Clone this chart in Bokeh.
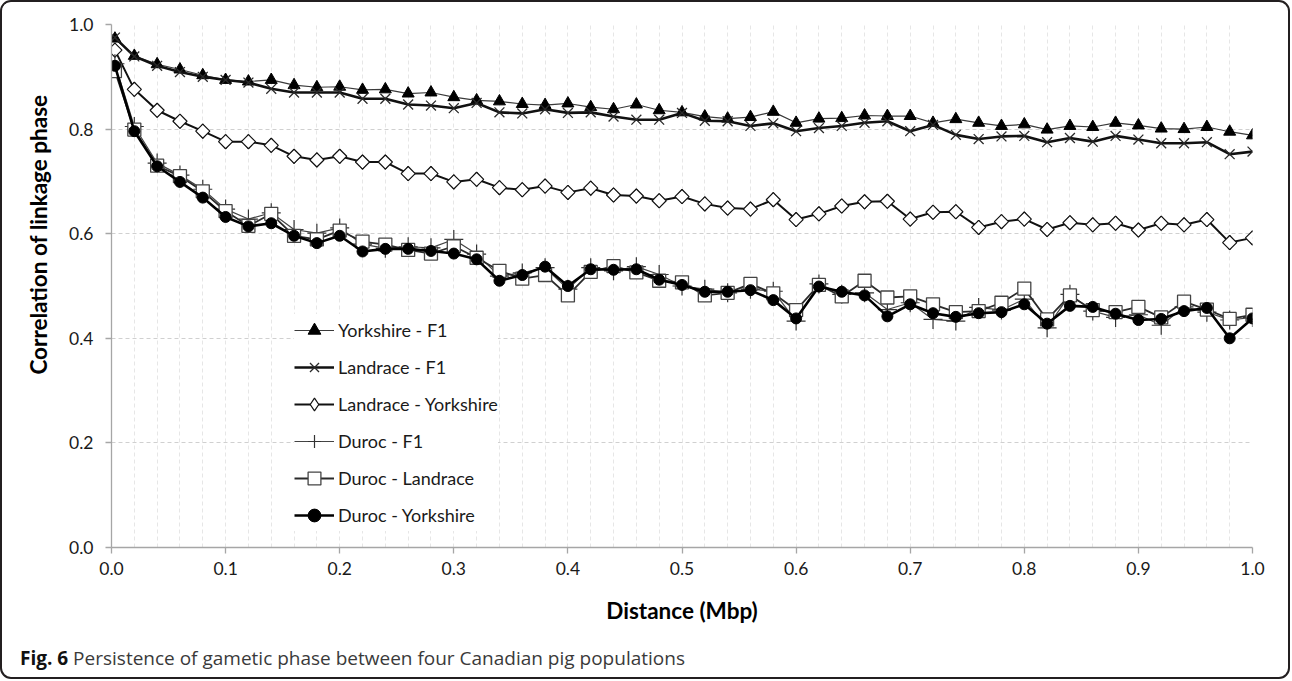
import math
from bokeh.plotting import figure
from bokeh.models import (FixedTicker, PrintfTickFormatter, Legend, LegendItem,
                          Title, Div, Range1d)
from bokeh.layouts import column
from bokeh.embed import file_html
from bokeh.resources import INLINE

# ---------------- data ----------------
distance = [0.003, 0.02, 0.04, 0.06, 0.08, 0.10, 0.12, 0.14, 0.16, 0.18, 0.20,
            0.22, 0.24, 0.26, 0.28, 0.30, 0.32, 0.34, 0.36, 0.38, 0.40,
            0.42, 0.44, 0.46, 0.48, 0.50, 0.52, 0.54, 0.56, 0.58, 0.60,
            0.62, 0.64, 0.66, 0.68, 0.70, 0.72, 0.74, 0.76, 0.78, 0.80,
            0.82, 0.84, 0.86, 0.88, 0.90, 0.92, 0.94, 0.96, 0.98, 1.00]

yorkshire_f1 = [0.973, 0.940, 0.924, 0.914, 0.903, 0.894, 0.891, 0.894, 0.884, 0.880, 0.881,
                0.875, 0.876, 0.868, 0.870, 0.861, 0.855, 0.853, 0.848, 0.846, 0.849,
                0.842, 0.838, 0.847, 0.836, 0.832, 0.824, 0.820, 0.823, 0.833, 0.812,
                0.820, 0.821, 0.826, 0.825, 0.825, 0.812, 0.819, 0.812, 0.806, 0.809,
                0.799, 0.806, 0.804, 0.812, 0.807, 0.801, 0.800, 0.804, 0.795, 0.788]

landrace_f1 = [0.975, 0.939, 0.921, 0.909, 0.900, 0.894, 0.889, 0.877, 0.870, 0.870, 0.870,
               0.858, 0.858, 0.847, 0.845, 0.840, 0.850, 0.832, 0.830, 0.838, 0.831,
               0.832, 0.824, 0.818, 0.818, 0.831, 0.816, 0.815, 0.806, 0.811, 0.796,
               0.802, 0.806, 0.812, 0.815, 0.796, 0.808, 0.789, 0.781, 0.786, 0.787,
               0.775, 0.783, 0.776, 0.787, 0.780, 0.773, 0.773, 0.775, 0.752, 0.757]

landrace_yorkshire = [0.951, 0.876, 0.836, 0.815, 0.796, 0.776, 0.776, 0.769, 0.748, 0.741, 0.748,
                      0.737, 0.737, 0.715, 0.715, 0.699, 0.704, 0.688, 0.684, 0.691, 0.679,
                      0.687, 0.674, 0.672, 0.663, 0.671, 0.657, 0.649, 0.647, 0.665, 0.627,
                      0.638, 0.653, 0.661, 0.662, 0.628, 0.641, 0.642, 0.612, 0.623, 0.628,
                      0.608, 0.621, 0.617, 0.620, 0.607, 0.620, 0.617, 0.627, 0.583, 0.592]

duroc_f1 = [0.925, 0.805, 0.735, 0.712, 0.685, 0.647, 0.628, 0.640, 0.608, 0.601, 0.611,
            0.580, 0.572, 0.575, 0.573, 0.589, 0.561, 0.519, 0.525, 0.535, 0.494,
            0.535, 0.529, 0.537, 0.522, 0.500, 0.494, 0.487, 0.494, 0.490, 0.433,
            0.504, 0.484, 0.487, 0.455, 0.468, 0.436, 0.433, 0.459, 0.454, 0.475,
            0.420, 0.484, 0.452, 0.440, 0.445, 0.425, 0.460, 0.450, 0.435, 0.440]

duroc_landrace = [0.911, 0.799, 0.730, 0.710, 0.681, 0.643, 0.615, 0.638, 0.596, 0.589, 0.606,
                  0.585, 0.579, 0.569, 0.562, 0.576, 0.554, 0.529, 0.514, 0.521, 0.482,
                  0.527, 0.538, 0.526, 0.510, 0.507, 0.482, 0.487, 0.504, 0.486, 0.454,
                  0.502, 0.480, 0.510, 0.478, 0.480, 0.465, 0.450, 0.452, 0.468, 0.495,
                  0.436, 0.482, 0.454, 0.450, 0.460, 0.440, 0.470, 0.455, 0.437, 0.445]

duroc_yorkshire = [0.921, 0.796, 0.729, 0.699, 0.669, 0.632, 0.614, 0.620, 0.596, 0.582, 0.596,
                   0.566, 0.571, 0.571, 0.567, 0.562, 0.551, 0.510, 0.521, 0.537, 0.500,
                   0.532, 0.531, 0.532, 0.512, 0.502, 0.489, 0.489, 0.492, 0.473, 0.438,
                   0.499, 0.489, 0.482, 0.442, 0.465, 0.448, 0.441, 0.448, 0.450, 0.465,
                   0.428, 0.462, 0.460, 0.447, 0.435, 0.437, 0.452, 0.458, 0.400, 0.438]

series_names = ["Yorkshire - F1", "Landrace - F1", "Landrace - Yorkshire",
                "Duroc - F1", "Duroc - Landrace", "Duroc - Yorkshire"]

x_ticks = [0.0, 0.1, 0.2, 0.3, 0.4, 0.5, 0.6, 0.7, 0.8, 0.9, 1.0]
y_ticks = [0.0, 0.2, 0.4, 0.6, 0.8, 1.0]
x_grid = [0.02 * i for i in range(51)]

FONT = "Lato"

p = figure(width=1276, height=630, x_range=Range1d(0, 1), y_range=Range1d(0, 1),
           output_backend="svg", toolbar_location=None,
           min_border_left=109, min_border_right=26, min_border_top=22,
           min_border_bottom=85)
p.outline_line_color = None
p.background_fill_color = "white"
p.border_fill_color = "white"

# axes
for ax in (p.xaxis[0], p.yaxis[0]):
    ax.axis_line_color = "#a6a6a6"
    ax.axis_line_width = 1.3
    ax.major_tick_line_color = "#a6a6a6"
    ax.major_tick_line_width = 1.3
    ax.major_tick_in = 0
    ax.major_tick_out = 6
    ax.minor_tick_line_color = None
    ax.major_label_text_font = FONT
    ax.major_label_text_font_size = "17.5px"
    ax.major_label_text_color = "#1a1a1a"
    ax.formatter = PrintfTickFormatter(format="%.1f")

p.xaxis.ticker = FixedTicker(ticks=x_ticks)
p.yaxis.ticker = FixedTicker(ticks=y_ticks)
p.xaxis.major_label_standoff = 8
p.yaxis.major_label_standoff = 12
p.xaxis.axis_label = "Distance (Mbp)"
p.xaxis.axis_label_text_font = FONT
p.xaxis.axis_label_text_font_style = "bold"
p.xaxis.axis_label_text_font_size = "22.5px"
p.xaxis.axis_label_text_color = "#000000"
p.xaxis.axis_label_standoff = 19

# grids
p.xgrid.ticker = FixedTicker(ticks=x_grid)
p.xgrid.grid_line_color = "#e6e6e6"
p.xgrid.grid_line_dash = "4 3"
p.xgrid.grid_line_width = 1
p.ygrid.ticker = FixedTicker(ticks=y_ticks)
p.ygrid.grid_line_color = "#d0d0d0"
p.ygrid.grid_line_dash = "4 3"
p.ygrid.grid_line_width = 1

# y axis title: a left-side title, placed off-centre (upper part) like the original
ytitle = Title(text="Correlation of linkage phase", align="right", offset=70,
               standoff=30, text_font=FONT, text_font_style="bold",
               text_font_size="22.5px", text_color="#000000")
p.add_layout(ytitle, "left")

items = []

# Yorkshire - F1
l1 = p.line(distance, yorkshire_f1, line_color="#3a3a3a", line_width=1.2)
s1 = p.scatter(distance, yorkshire_f1, marker="triangle", size=12,
               fill_color="#000000", line_color="#000000")
items.append(LegendItem(label=series_names[0], renderers=[l1, s1]))

# Landrace - F1
l2 = p.line(distance, landrace_f1, line_color="#111111", line_width=2.6)
s2 = p.scatter(distance, landrace_f1, marker="x", size=14,
               line_color="#2a2a2a", line_width=1.3)
items.append(LegendItem(label=series_names[1], renderers=[l2, s2]))

# Landrace - Yorkshire: diamond key (legend) under 45-degree squares (plot)
l3 = p.line(distance, landrace_yorkshire, line_color="#111111", line_width=2.0)
s3_key = p.scatter(distance, landrace_yorkshire, marker="diamond", size=14,
                   fill_color="white", line_color="#111111", line_width=1.2)
s3 = p.scatter(distance, landrace_yorkshire, marker="square", angle=math.pi / 4, size=10,
               fill_color="white", line_color="#111111", line_width=1.2)
items.append(LegendItem(label=series_names[2], renderers=[l3, s3_key]))

# Duroc - F1
l4 = p.line(distance, duroc_f1, line_color="#444444", line_width=1.2)
s4 = p.scatter(distance, duroc_f1, marker="cross", size=19,
               line_color="#333333", line_width=1.2)
items.append(LegendItem(label=series_names[3], renderers=[l4, s4]))

# Duroc - Landrace
l5 = p.line(distance, duroc_landrace, line_color="#2a2a2a", line_width=1.8)
s5 = p.scatter(distance, duroc_landrace, marker="square", size=13,
               fill_color="white", line_color="#444444", line_width=1.3)
items.append(LegendItem(label=series_names[4], renderers=[l5, s5]))

# Duroc - Yorkshire
l6 = p.line(distance, duroc_yorkshire, line_color="#000000", line_width=2.6)
s6 = p.scatter(distance, duroc_yorkshire, marker="circle", size=11,
               fill_color="#000000", line_color="#000000")
items.append(LegendItem(label=series_names[5], renderers=[l6, s6]))

legend = Legend(items=items, location=(183, 16), orientation="vertical",
                glyph_width=40, glyph_height=32, label_height=32, spacing=5,
                padding=10, margin=0, label_standoff=4,
                label_text_font=FONT, label_text_font_size="18px",
                label_text_color="#1a1a1a", label_text_baseline="middle",
                background_fill_color="white", background_fill_alpha=1.0,
                border_line_color=None)
p.add_layout(legend)

caption = Div(text=('<div style="font-family:\'Open Sans\';font-size:19px;color:#3a3a3a;'
                    'padding-left:13px;padding-top:8px;white-space:nowrap;line-height:26px;">'
                    '<b style="color:#111111;">Fig. 6</b> Persistence of gametic phase '
                    'between four Canadian pig populations</div>'),
              width=1276, height=35)

layout = column(p, caption, spacing=0,
                styles={"border": "2px solid #231f20", "border-radius": "11px",
                        "overflow": "hidden", "background-color": "white"})

open("out.html", "w").write(file_html(layout, INLINE))
